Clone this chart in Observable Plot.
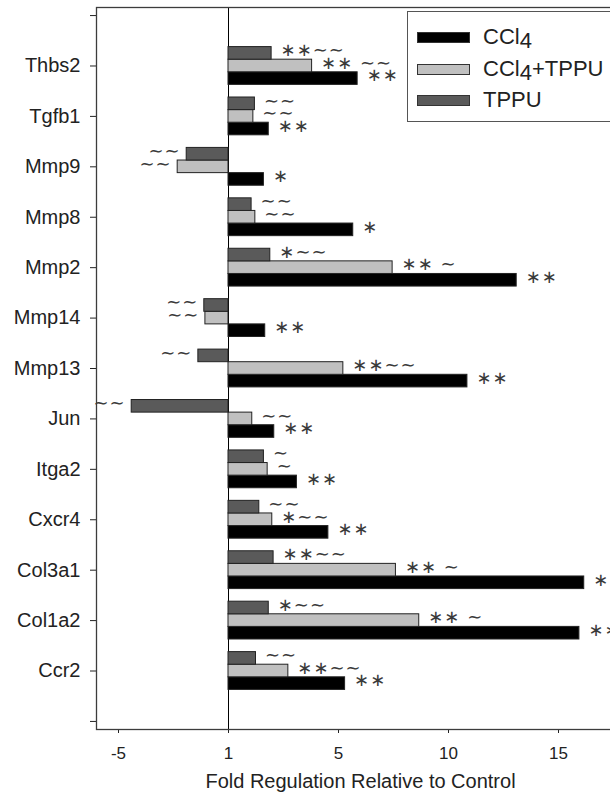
<!DOCTYPE html>
<html>
<head>
<meta charset="utf-8">
<script src="https://cdn.jsdelivr.net/npm/d3@7"></script>
<script src="https://cdn.jsdelivr.net/npm/@observablehq/plot@0.6"></script>
<style>
  body { margin: 0; background: #fff; overflow: hidden; }
  #wrap { position: relative; width: 610px; height: 799px; overflow: hidden; background: #fff; }
  #wrap svg { max-width: none !important; display: block; }
  #legend { position: absolute; left: 407px; top: 11px; width: 215px; height: 111px;
            border: 1px solid #555; background: #fff; box-sizing: border-box;
            font-family: "Liberation Sans", Arial, sans-serif; font-size: 22px; color: #222; }
  .lrow { position: absolute; left: 0; height: 30px; display: flex; align-items: center; }
  .sw { width: 53px; height: 11px; box-sizing: border-box; border: 1px solid #333; margin-left: 9px; margin-right: 13px; }
</style>
</head>
<body>
<div id="wrap"></div>
<script>
// ---- data ----
const genes = ["Thbs2","Tgfb1","Mmp9","Mmp8","Mmp2","Mmp14","Mmp13","Jun","Itga2","Cxcr4","Col3a1","Col1a2","Ccr2"];
const seriesNames = ["CCl4", "CCl4+TPPU", "TPPU"];
const seriesColors = ["#000000", "#c0c0c0", "#5a5a5a"];
const ccl4Values  = [5.87, 1.83, 1.61, 5.67, 13.1, 1.67, 10.86, 2.08, 3.11, 4.54, 16.17, 15.95, 5.3];
const comboValues = [3.8, 1.13, -2.31, 1.22, 7.46, -1.05, 5.22, 1.08, 1.78, 1.99, 7.61, 8.67, 2.72];
const tppuValues  = [1.96, 1.2, -1.9, 1.05, 1.9, -1.1, -1.37, -4.4, 1.61, 1.4, 2.05, 1.83, 1.25];
const ccl4Sig  = ["∗∗","∗∗","∗","∗","∗∗","∗∗","∗∗","∗∗","∗∗","∗∗","∗∗","∗∗","∗∗"];
const comboSig = ["∗∗ ∼∼","∼∼","∼∼","∼∼","∗∗ ∼","∼∼","∗∗∼∼","∼∼","∼","∗∼∼","∗∗ ∼","∗∗ ∼","∗∗∼∼"];
const tppuSig  = ["∗∗∼∼","∼∼","∼∼","∼∼","∗∼∼","∼∼","∼∼","∼∼","∼","∼∼","∗∗∼∼","∗∼∼","∼∼"];
const xTicks = [-5, 0, 5, 10, 15];
const xTickLabels = ["-5", "1", "5", "10", "15"];
const xTitle = "Fold Regulation Relative to Control";

// ---- build table ----
const seriesData = [
  {name: seriesNames[0], values: ccl4Values, sig: ccl4Sig, off: 0.25},
  {name: seriesNames[1], values: comboValues, sig: comboSig, off: 0},
  {name: seriesNames[2], values: tppuValues, sig: tppuSig, off: -0.25}
];
const rows = [];
seriesData.forEach(s => genes.forEach((g, i) => {
  rows.push({gene: g, series: s.name, value: s.values[i], label: s.sig[i], pos: i + 1 + s.off});
}));
const halfBar = 0.125;

const chart = Plot.plot({
  width: 624,
  height: 799,
  marginLeft: 96,
  marginRight: 0,
  marginTop: 7,
  marginBottom: 70,
  style: {fontFamily: "'Liberation Sans', Arial, sans-serif", fontSize: "20px", color: "#222", background: "#fff"},
  x: {domain: [-6, 18]},
  y: {domain: [-0.16, 14.16], reverse: true},
  color: {domain: seriesNames, range: seriesColors},
  marks: [
    Plot.ruleX([0], {stroke: "#000", strokeWidth: 1}),
    Plot.rect(rows, {x1: 0, x2: "value", y1: d => d.pos - halfBar, y2: d => d.pos + halfBar,
      fill: "series", stroke: "#222", strokeWidth: 1}),
    Plot.text(rows.filter(d => d.value > 0), {x: "value", y: "pos", text: "label", textAnchor: "start",
      dx: 9, dy: -3, fontSize: 18, fontFamily: "DejaVu Sans", fill: "#3a3a3a"}),
    Plot.text(rows.filter(d => d.value < 0), {x: "value", y: "pos", text: "label", textAnchor: "end",
      dx: -6, dy: -3, fontSize: 18, fontFamily: "DejaVu Sans", fill: "#3a3a3a"}),
    Plot.axisY({ticks: d3.range(0, genes.length + 2), tickFormat: i => genes[i - 1] ?? "",
      tickSize: 6, tickPadding: 10, label: null, fontSize: 20}),
    Plot.axisX({ticks: xTicks, tickFormat: d => xTickLabels[xTicks.indexOf(d)],
      tickSize: 4, tickPadding: 13, label: null, fontSize: 17}),
    Plot.text([xTitle], {text: d => d, frameAnchor: "bottom", dy: 58, fontSize: 20}),
    Plot.frame({stroke: "#3c3c3c", strokeWidth: 1.3})
  ]
});
d3.select(chart).selectAll('g[aria-label="text"] text').filter(function() {
  return /[∗∼]/.test(this.textContent);
}).style("letter-spacing", "1px");

const wrap = document.getElementById("wrap");
wrap.appendChild(chart);

// ---- legend ----
const legend = document.createElement("div");
legend.id = "legend";
const rowTops = [10, 42, 73];
seriesNames.forEach((name, k) => {
  const r = document.createElement("div");
  r.className = "lrow";
  r.style.top = rowTops[k] + "px";
  const sw = document.createElement("div");
  sw.className = "sw";
  sw.style.background = seriesColors[k];
  r.appendChild(sw);
  const t = document.createElement("span");
  t.innerHTML = name.replace("CCl4", 'CCl<span style="position:relative;top:4px">4</span>');
  r.appendChild(t);
  legend.appendChild(r);
});
wrap.appendChild(legend);
</script>
</body>
</html>
